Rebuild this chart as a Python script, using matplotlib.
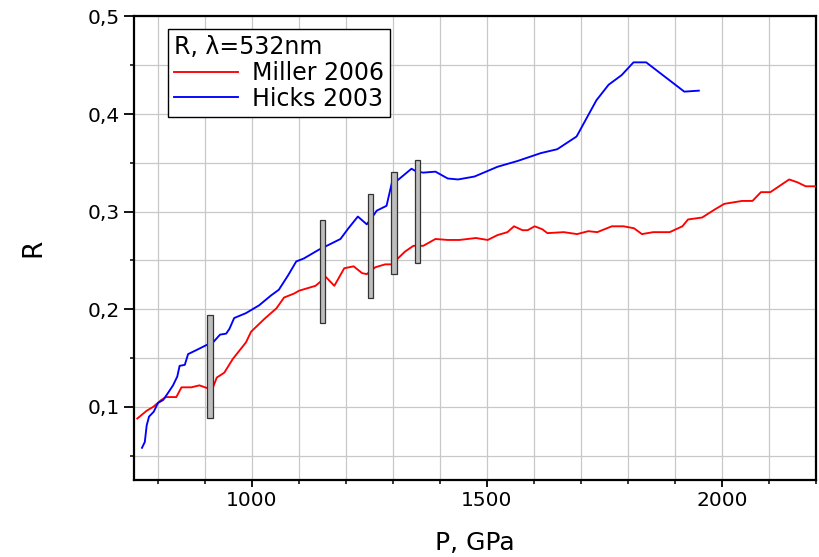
import matplotlib
matplotlib.use("Agg")
import matplotlib.pyplot as plt
from matplotlib.ticker import MultipleLocator, FixedLocator
import numpy as np

# Reflectivity vs pressure, two shock datasets
hicks_p = [767, 773, 777, 782, 792, 801, 812, 822, 833, 842, 847, 858, 865, 882, 907, 918,
           933, 946, 953, 963, 988, 1016, 1041, 1058, 1078, 1095, 1111, 1143, 1164, 1189,
           1206, 1226, 1245, 1259, 1266, 1287, 1298, 1310, 1340, 1351, 1365, 1391, 1417,
           1439, 1474, 1523, 1566, 1615, 1650, 1691, 1733, 1759, 1787, 1812, 1839, 1920, 1951]
hicks_r = [0.058, 0.064, 0.081, 0.090, 0.095, 0.104, 0.107, 0.114, 0.122, 0.131, 0.142, 0.143,
           0.154, 0.158, 0.164, 0.166, 0.174, 0.175, 0.180, 0.191, 0.196, 0.204, 0.214, 0.220,
           0.235, 0.249, 0.252, 0.261, 0.266, 0.272, 0.283, 0.295, 0.287, 0.296, 0.301, 0.306,
           0.329, 0.332, 0.344, 0.341, 0.340, 0.341, 0.334, 0.333, 0.336, 0.346, 0.352, 0.360,
           0.364, 0.377, 0.414, 0.430, 0.440, 0.453, 0.453, 0.423, 0.424]

miller_p = [757, 777, 791, 808, 818, 840, 851, 872, 889, 907, 918, 926, 942, 960, 988, 999,
            1027, 1053, 1069, 1090, 1101, 1136, 1158, 1176, 1197, 1217, 1235, 1245, 1263, 1284,
            1298, 1326, 1344, 1365, 1391, 1417, 1442, 1477, 1502, 1523, 1544, 1558, 1576, 1587,
            1602, 1618, 1629, 1664, 1692, 1716, 1735, 1766, 1791, 1813, 1830, 1854, 1889, 1916,
            1928, 1958, 1984, 2005, 2043, 2065, 2083, 2103, 2143, 2161, 2178, 2215]
miller_r = [0.088, 0.096, 0.100, 0.107, 0.110, 0.110, 0.120, 0.120, 0.122, 0.119, 0.120, 0.130,
            0.135, 0.149, 0.166, 0.177, 0.190, 0.201, 0.212, 0.216, 0.219, 0.224, 0.233, 0.224,
            0.242, 0.244, 0.237, 0.236, 0.243, 0.246, 0.246, 0.259, 0.265, 0.265, 0.272, 0.271,
            0.271, 0.273, 0.271, 0.276, 0.279, 0.285, 0.281, 0.281, 0.285, 0.282, 0.278, 0.279,
            0.277, 0.280, 0.279, 0.285, 0.285, 0.283, 0.277, 0.279, 0.279, 0.285, 0.292, 0.294,
            0.302, 0.308, 0.311, 0.311, 0.320, 0.320, 0.333, 0.330, 0.326, 0.326]

# error bands shown as gray bars
bar_p = [912, 1151, 1253, 1303, 1353]
bar_lo = [0.089, 0.186, 0.212, 0.236, 0.247]
bar_hi = [0.194, 0.291, 0.318, 0.341, 0.353]

ytick_vals = [0.1, 0.2, 0.3, 0.4, 0.5]
ytick_labels = ["0,1", "0,2", "0,3", "0,4", "0,5"]
xtick_vals = [1000, 1500, 2000]

plt.rcParams["font.family"] = ["DejaVu Sans"]

fig = plt.figure(figsize=(8.19, 5.57), dpi=100)
ax = fig.add_axes([0.1636, 0.1382, 0.8327, 0.8322])

ax.plot(miller_p, miller_r, color="#ff0000", linewidth=1.35, label="Miller 2006", zorder=3)
ax.plot(hicks_p, hicks_r, color="#0000ff", linewidth=1.35, label="Hicks 2003", zorder=3)

heights = np.array(bar_hi) - np.array(bar_lo)
ax.bar(bar_p, heights, bottom=bar_lo, width=11.5, color="#bdbdbd",
       edgecolor="#333333", linewidth=0.9, zorder=4)

ax.set_xlim(750, 2200)
ax.set_ylim(0.025, 0.5)

ax.xaxis.set_major_locator(FixedLocator(xtick_vals))
ax.xaxis.set_minor_locator(MultipleLocator(100))
ax.yaxis.set_major_locator(FixedLocator(ytick_vals))
ax.set_yticklabels(ytick_labels)
ax.yaxis.set_minor_locator(MultipleLocator(0.05))

ax.grid(True, which="both", color="#c8c8c8", linewidth=0.9, zorder=0)
ax.set_axisbelow(True)

for sp in ax.spines.values():
    sp.set_linewidth(1.6)
    sp.set_color("black")

ax.tick_params(axis="both", which="major", direction="out", width=1.3, labelsize=14.5)
ax.tick_params(axis="x", which="major", length=5, pad=3)
ax.tick_params(axis="y", which="major", length=7, pad=3)
ax.tick_params(axis="both", which="minor", direction="out", width=1.1, length=3)

ax.set_xlabel("P, GPa", fontsize=18, labelpad=15)
ax.set_ylabel("R", fontsize=19, labelpad=30)

leg = ax.legend(loc="upper left", bbox_to_anchor=(0.05, 0.973), title="R, \u03bb=532nm",
                fontsize=17, title_fontsize=17, fancybox=False, framealpha=1,
                edgecolor="black", handlelength=2.7, borderpad=0.25, labelspacing=0.08,
                handletextpad=0.6, borderaxespad=0)
leg._legend_box.align = "left"
leg.get_frame().set_linewidth(1.0)

fig.savefig("out.png", dpi=100)
